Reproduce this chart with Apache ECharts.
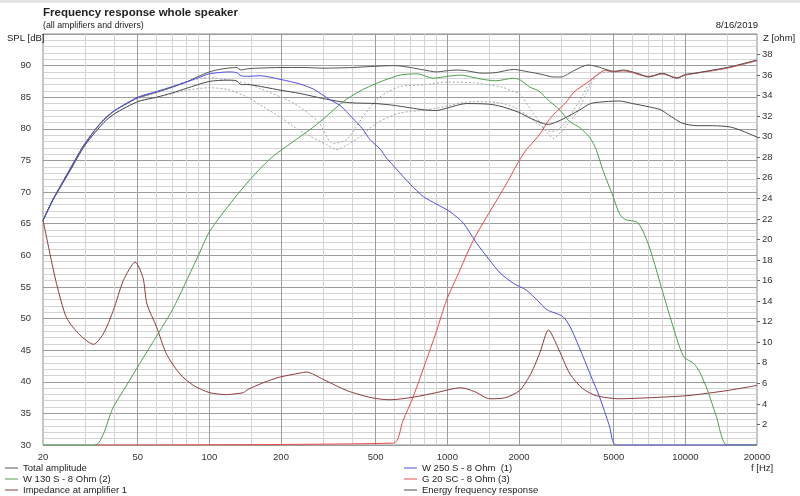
<!DOCTYPE html>
<html lang="en">
<head>
<meta charset="UTF-8">
<title>Frequency response whole speaker</title>
<script src="https://cdn.jsdelivr.net/npm/echarts@6/dist/echarts.min.js"></script>
<style>
  html, body { margin: 0; padding: 0; background: #fff; }
</style>
</head>
<body>
<div id="main" style="width: 800px;height:496px;"></div>
<script type="text/javascript">
// x tick values (Hz)
const majorTicks = [20, 50, 100, 200, 500, 1000, 2000, 5000, 10000, 20000];
const minorTicks = [30, 40, 60, 70, 80, 90, 150, 300, 400, 600, 700, 800, 900, 1500, 3000, 4000, 6000, 7000, 8000, 9000, 15000];

// Total amplitude
const totalFreq = [20, 22, 24, 26, 28, 30, 33, 36, 40, 45, 50, 60, 70, 80, 90, 100, 110, 120, 130, 136, 145, 160, 200, 250, 300, 400, 500, 600, 700, 800, 900, 1000, 1100, 1200, 1400, 1600, 1900, 2200, 2500, 2800, 3000, 3400, 3900, 4300, 5000, 5500, 6000, 6500, 7000, 8000, 9200, 10000, 11000, 13000, 15000, 17000, 20000];
const totalSpl = [65.5, 68.8, 71.3, 73.6, 75.8, 77.6, 79.8, 81.4, 82.9, 84.0, 84.9, 85.8, 86.6, 87.4, 88.3, 89.0, 89.4, 89.6, 89.7, 89.3, 89.5, 89.6, 89.7, 89.7, 89.6, 89.7, 89.9, 90.0, 89.7, 89.3, 89.0, 89.2, 89.3, 89.2, 88.8, 88.9, 89.4, 89.0, 88.6, 88.2, 88.2, 89.2, 90.1, 89.8, 89.1, 89.3, 89.0, 88.6, 88.2, 88.8, 88.0, 88.6, 88.8, 89.3, 89.7, 90.2, 90.9];

// Energy frequency response
const energyFreq = [20, 22, 26, 30, 36, 40, 50, 60, 70, 80, 100, 120, 130, 136, 145, 170, 200, 240, 300, 354, 400, 500, 600, 800, 900, 1000, 1200, 1500, 1700, 2000, 2200, 2500, 2650, 3000, 3600, 4000, 4600, 5300, 6000, 7000, 7900, 8500, 9700, 11200, 13000, 15400, 17000, 20000];
const energySpl = [65.5, 68.7, 73.4, 77.4, 81.0, 82.4, 84.3, 85.0, 85.7, 86.4, 87.5, 87.7, 87.6, 87.0, 87.0, 86.6, 86.1, 85.6, 84.8, 84.3, 84.1, 84.0, 83.7, 83.0, 82.9, 83.3, 84.0, 83.9, 83.5, 82.6, 81.8, 80.9, 80.7, 81.4, 83.0, 84.0, 84.3, 84.4, 84.0, 83.5, 83.0, 82.2, 80.9, 80.5, 80.5, 80.3, 79.8, 78.7];

// W 250 S - 8 Ohm (1)
const wooferFreq = [20, 22, 26, 30, 36, 40, 50, 60, 70, 80, 90, 100, 110, 120, 130, 136, 145, 163, 200, 240, 273, 321, 354, 400, 440, 473, 522, 555, 612, 700, 792, 900, 1026, 1166, 1328, 1500, 1666, 1890, 2146, 2400, 2620, 3060, 3300, 3716, 4000, 4360, 4800, 5120, 20000];
const wooferSpl = [65.5, 68.8, 73.7, 77.7, 81.5, 82.9, 85.0, 85.9, 86.7, 87.4, 88.1, 88.7, 88.9, 89.0, 88.9, 88.4, 88.3, 88.4, 87.8, 87.1, 86.3, 84.6, 83.7, 81.7, 80.0, 78.3, 76.8, 75.4, 73.6, 71.2, 69.3, 68.1, 66.9, 65.1, 61.9, 59.3, 57.2, 55.6, 54.5, 52.8, 51.4, 50.3, 48.5, 44.0, 41.0, 37.6, 33.0, 30.0, 30.0];

// W 130 S - 8 Ohm (2)
const midFreq = [20, 33, 39.5, 45, 51, 60, 70, 80, 90, 100, 126, 150, 178, 200, 263, 300, 365, 430, 504, 632, 750, 871, 1000, 1138, 1372, 1600, 1886, 2012, 2220, 2420, 2680, 2970, 3250, 3600, 3970, 4220, 4500, 4970, 5300, 5640, 6240, 6600, 7120, 8620, 9820, 10840, 11500, 12380, 13500, 14960, 20000];
const midSpl = [30, 30, 36.0, 39.5, 42.9, 47.2, 51.4, 55.9, 60.0, 63.7, 68.8, 72.2, 75.1, 76.6, 79.8, 81.5, 84.3, 86.0, 87.2, 88.5, 88.7, 88.0, 88.3, 88.5, 87.9, 87.6, 88.0, 87.8, 86.6, 86.0, 84.4, 83.0, 81.2, 80.2, 78.6, 76.7, 73.5, 69.3, 66.5, 65.6, 65.3, 64.0, 60.9, 50.3, 44.0, 42.9, 41.5, 38.7, 34.5, 30.0, 30.0];

// G 20 SC - 8 Ohm (3)
const tweeterFreq = [33, 594, 650, 718, 800, 900, 992, 1100, 1286, 1464, 1600, 1776, 2012, 2146, 2220, 2450, 2650, 2800, 3140, 3400, 3830, 4360, 4600, 4970, 5500, 6000, 6500, 7000, 8000, 9200, 10000, 11000, 13000, 15000, 17000, 20000];
const tweeterSpl = [30, 30.3, 33.8, 37.6, 42.5, 48.0, 52.9, 56.7, 62.4, 66.1, 68.5, 71.4, 75.1, 76.7, 77.3, 79.2, 81.2, 82.3, 84.1, 85.8, 87.2, 88.8, 89.3, 89.0, 89.2, 88.9, 88.5, 88.3, 88.7, 88.1, 88.5, 88.8, 89.2, 89.6, 90.1, 90.8];

// dotted curves (no legend entry)
const dotAFreq = [20, 22, 26, 30, 36, 40, 50, 60, 70, 80, 100, 120, 143, 163, 200, 225, 260, 290, 330, 378, 432, 504, 560, 632, 816, 1000, 1300, 1464, 1700, 1890, 2012, 2200, 2450, 2790, 3000, 3490, 3830, 4220, 4600, 5000, 6000, 7000, 8000, 9200, 10000, 13000, 17000, 20000];
const dotASpl = [65.5, 68.8, 73.6, 77.6, 81.4, 82.8, 84.8, 85.7, 86.6, 87.5, 88.1, 87.7, 87.2, 86.4, 85.0, 84.1, 82.5, 80.9, 77.7, 78.3, 81.4, 84.6, 85.8, 86.7, 87.0, 87.4, 87.3, 87.0, 86.6, 85.9, 85.6, 83.5, 81.0, 78.5, 79.5, 82.5, 85.6, 88.5, 89.2, 89.0, 88.9, 88.2, 88.7, 88.0, 88.5, 89.2, 90.1, 90.8];
const dotBFreq = [20, 22, 26, 30, 36, 40, 50, 60, 70, 80, 100, 120, 143, 163, 200, 225, 260, 311, 342, 380, 432, 504, 632, 816, 1000, 1138, 1300, 1600, 1900, 2100, 2400, 2700, 2900, 3200, 3600, 4000, 4400, 5000, 6000, 7000, 8000, 9200, 10000, 13000, 17000, 20000];
const dotBSpl = [65.5, 68.7, 73.4, 77.4, 81.0, 82.4, 84.3, 85.0, 85.6, 86.1, 86.5, 86.2, 85.1, 83.8, 81.8, 80.4, 79.0, 77.5, 76.7, 77.5, 78.8, 80.9, 82.5, 83.0, 83.6, 84.1, 84.3, 84.2, 83.5, 82.5, 80.8, 79.6, 79.8, 81.5, 84.5, 87.5, 88.8, 89.0, 88.9, 88.2, 88.7, 88.0, 88.5, 89.2, 90.1, 90.8];

// Impedance at amplifier 1 (ohm, right axis)
const zFreq = [20, 21.4, 22.8, 25.1, 28.6, 32.6, 35.8, 39.5, 43.5, 48.8, 52.6, 54.7, 60, 65.9, 75.3, 85.7, 100, 118, 130, 139, 145, 170, 197, 240, 256, 300, 378, 480, 574, 718, 900, 1138, 1300, 1508, 1750, 2012, 2250, 2450, 2660, 2900, 3276, 3700, 4220, 5300, 7000, 10150, 15000, 20000];
const zOhm = [21.9, 18.6, 15.7, 12.4, 10.7, 9.8, 10.8, 13.1, 16.0, 17.8, 16.3, 13.7, 11.5, 8.9, 6.9, 5.8, 5.1, 4.9, 5.0, 5.1, 5.4, 6.1, 6.6, 7.0, 7.1, 6.4, 5.3, 4.6, 4.4, 4.65, 5.1, 5.57, 5.2, 4.5, 4.6, 5.3, 7.0, 9.0, 11.2, 9.6, 6.9, 5.5, 4.8, 4.5, 4.6, 4.8, 5.3, 5.8];

const pairs = (xs, ys) => xs.map((x, i) => [x, ys[i]]);
const font = 'Liberation Sans, Arial, sans-serif';

// vertical grid lines through the log axis
const gridLines = minorTicks.map(v => ({ xAxis: v, lineStyle: { color: '#d4d4d4' } }))
    .concat(majorTicks.slice(1, -1).map(v => ({ xAxis: v, lineStyle: { color: '#9c9c9c' } })));

function line(name, xs, ys, color, extra) {
    return Object.assign({
        name: name,
        type: 'line',
        data: pairs(xs, ys),
        symbol: 'none',
        smooth: 0.25,
        lineStyle: { color: color, width: 1 },
        itemStyle: { color: color }
    }, extra || {});
}

function txt(text, pos, size, weight) {
    return Object.assign({ text: text, padding: 0,
        textStyle: { fontFamily: font, fontSize: size, fontWeight: weight || 'normal', color: '#222' } }, pos);
}

function leg(name, left, top) {
    return { left: left, top: top, padding: 0, icon: 'rect', itemWidth: 13, itemHeight: 1,
        textStyle: { fontFamily: font, fontSize: 9.5, color: '#222' }, data: [name] };
}

let options = {
    animation: false,
    backgroundColor: '#fff',
    graphic: [{ type: 'rect', left: 0, top: 0, shape: { width: 800, height: 3 }, style: { fill: '#e4e4e4' } }],
    title: [
        txt('Frequency response whole speaker', { left: 43, top: 7 }, 11.5, 'bold'),
        txt('(all amplifiers and drivers)', { left: 43, top: 21 }, 8.8),
        txt('8/16/2019', { right: 42, top: 20 }, 9.5),
        txt('SPL [dB]', { left: 7, top: 33 }, 9.5),
        txt('Z [ohm]', { left: 763, top: 33 }, 9.5),
        txt('f [Hz]', { left: 751, top: 463 }, 9.5)
    ],
    legend: [
        leg('Total amplitude', 5, 463),
        leg('W 130 S - 8 Ohm (2)', 5, 474),
        leg('Impedance at amplifier 1', 5, 485),
        leg('W 250 S - 8 Ohm  (1)', 404, 463),
        leg('G 20 SC - 8 Ohm (3)', 404, 474),
        leg('Energy frequency response', 404, 485)
    ],
    grid: { left: 43, right: 43, top: 34, bottom: 51, show: true, borderColor: '#8c8c8c', borderWidth: 1 },
    xAxis: [
        { type: 'log', min: 20, max: 20000, axisLine: { show: false },
          axisTick: { show: false, customValues: majorTicks },
          axisLabel: { customValues: majorTicks, formatter: v => String(v), fontFamily: font, fontSize: 9.5, color: '#333', margin: 7 },
          splitLine: { show: false } }
    ],
    yAxis: [
        { type: 'value', min: 30, max: 95, interval: 5, axisLine: { show: false }, axisTick: { show: false },
          axisLabel: { fontFamily: font, fontSize: 9.5, color: '#333', margin: 12, showMaxLabel: false },
          splitLine: { show: true, lineStyle: { color: '#9c9c9c' } },
          minorTick: { show: false, splitNumber: 5 },
          minorSplitLine: { show: true, lineStyle: { color: '#d4d4d4' } } },
        { type: 'value', position: 'right', min: 0, max: 40, interval: 2,
          axisLine: { show: false },
          axisTick: { show: true, length: 3, lineStyle: { color: '#666' } },
          axisLabel: { fontFamily: font, fontSize: 9.5, color: '#333', margin: 5, showMinLabel: false, showMaxLabel: false },
          splitLine: { show: false } }
    ],
    series: [
        line('dotA', dotAFreq, dotASpl, '#a8a8a8', {
            lineStyle: { color: '#a8a8a8', width: 1, type: [2, 2] },
            markLine: { silent: true, z: 1, symbol: ['none', 'none'], label: { show: false },
                lineStyle: { type: 'solid', width: 1 }, data: gridLines } }),
        line('dotB', dotBFreq, dotBSpl, '#a8a8a8', { lineStyle: { color: '#a8a8a8', width: 1, type: [2, 2] } }),
        line('G 20 SC - 8 Ohm (3)', tweeterFreq, tweeterSpl, '#f04848'),
        line('Energy frequency response', energyFreq, energySpl, '#4a4a4a'),
        line('Total amplitude', totalFreq, totalSpl, '#555555'),
        line('Impedance at amplifier 1', zFreq, zOhm, '#8e3a3a', { yAxisIndex: 1 }),
        line('W 130 S - 8 Ohm (2)', midFreq, midSpl, '#4ca04c'),
        line('W 250 S - 8 Ohm  (1)', wooferFreq, wooferSpl, '#4d4de6')
    ]
};
let myChart = echarts.init(document.getElementById('main'));
myChart.setOption(options);
</script>
</body>
</html>
